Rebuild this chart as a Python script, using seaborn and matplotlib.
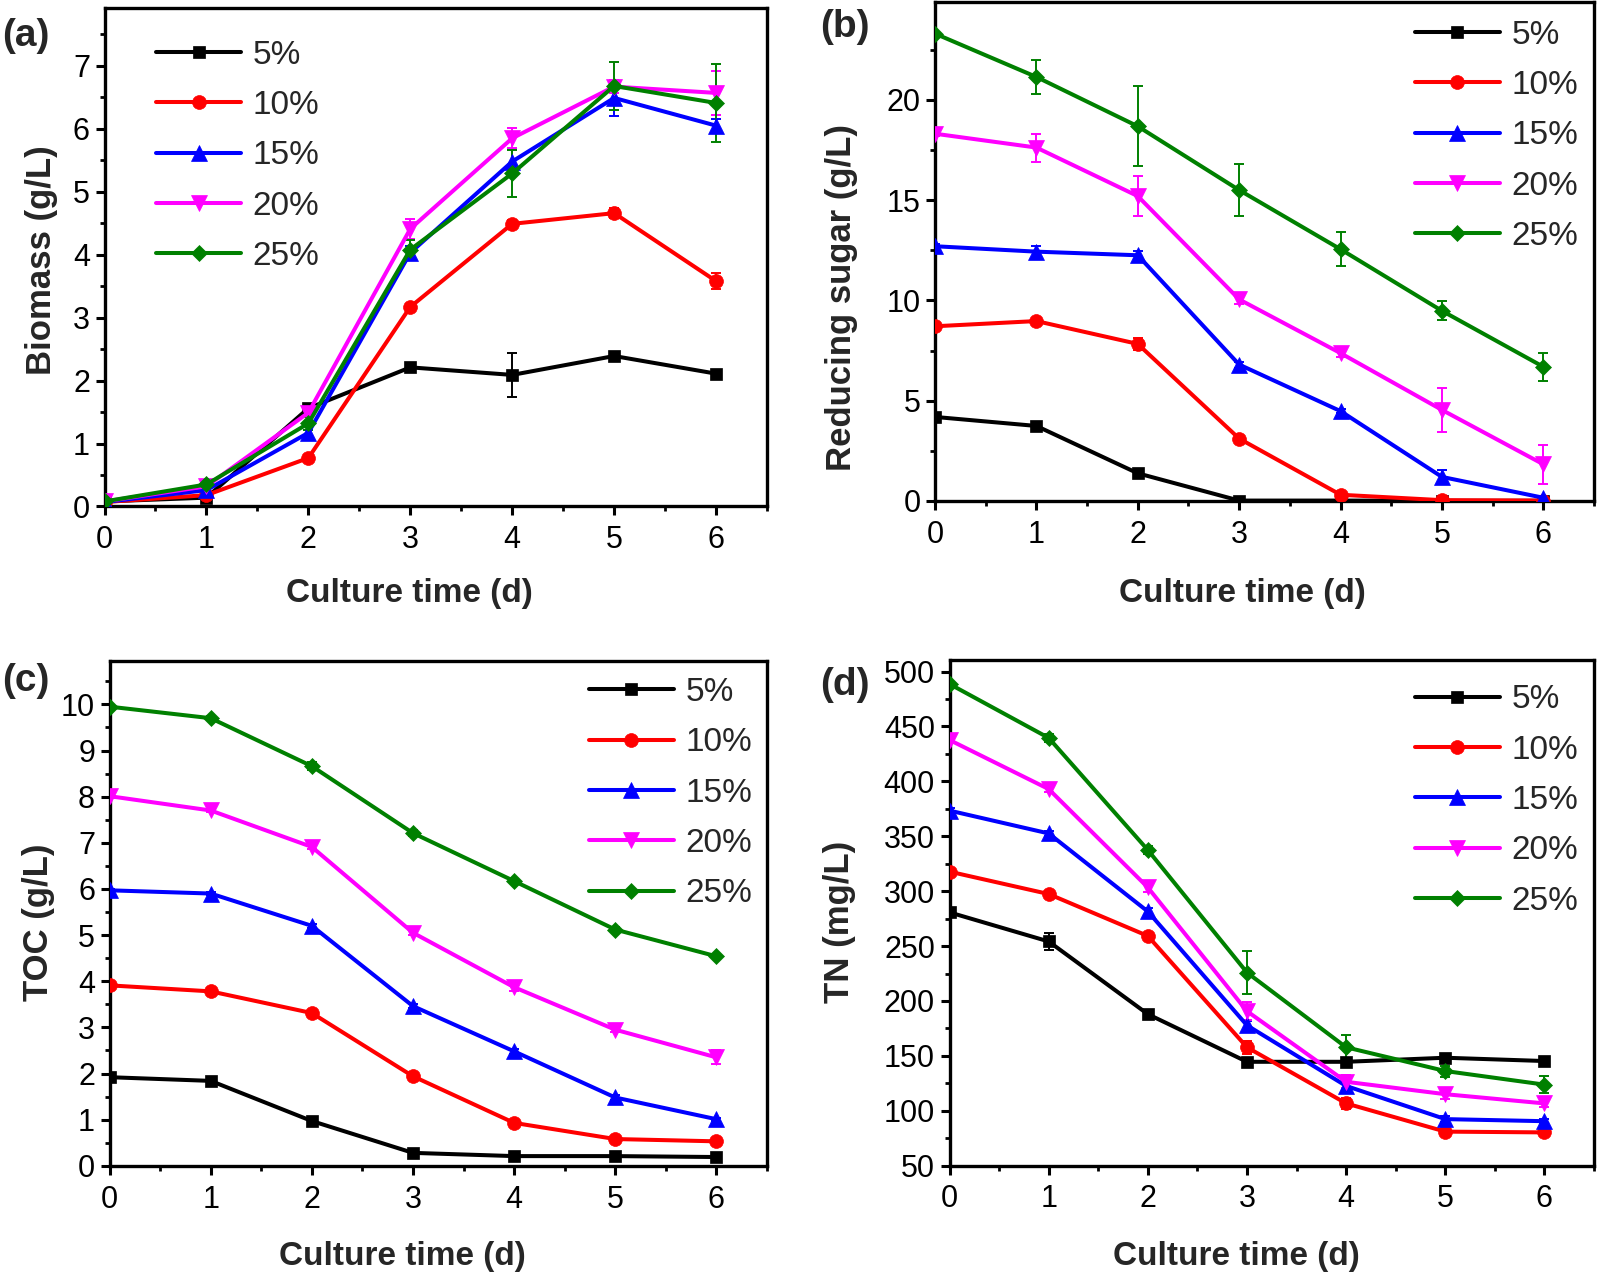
import numpy as np
import pandas as pd
import matplotlib
matplotlib.use("Agg")
import matplotlib.pyplot as plt
import seaborn as sns
from matplotlib.ticker import MultipleLocator

# ---------------- data ----------------
days = [0, 1, 2, 3, 4, 5, 6]
series_names = ["5%", "10%", "15%", "20%", "25%"]
colors = ["#000000", "#FF0000", "#0000FF", "#FF00FF", "#008000"]
marker_list = ["s", "o", "^", "v", "D"]

# (a) Biomass (g/L)
biomass_5 = [0.08, 0.14, 1.56, 2.21, 2.09, 2.39, 2.11]
biomass_10 = [0.07, 0.18, 0.77, 3.17, 4.49, 4.66, 3.58]
biomass_15 = [0.07, 0.26, 1.17, 4.03, 5.48, 6.49, 6.05]
biomass_20 = [0.08, 0.32, 1.49, 4.41, 5.85, 6.67, 6.57]
biomass_25 = [0.08, 0.35, 1.32, 4.08, 5.29, 6.68, 6.41]
biomass_err_5 = [0.02, 0.03, 0.05, 0.05, 0.35, 0.05, 0.05]
biomass_err_10 = [0.02, 0.03, 0.05, 0.05, 0.06, 0.08, 0.13]
biomass_err_15 = [0.02, 0.05, 0.05, 0.10, 0.20, 0.28, 0.10]
biomass_err_20 = [0.02, 0.05, 0.05, 0.16, 0.16, 0.10, 0.35]
biomass_err_25 = [0.02, 0.05, 0.10, 0.15, 0.38, 0.38, 0.62]

# (b) Reducing sugar (g/L)
sugar_5 = [4.19, 3.74, 1.38, 0.02, 0.02, 0.01, 0.01]
sugar_10 = [8.71, 8.97, 7.83, 3.11, 0.31, 0.04, 0.02]
sugar_15 = [12.70, 12.43, 12.25, 6.80, 4.48, 1.20, 0.16]
sugar_20 = [18.31, 17.62, 15.20, 10.05, 7.37, 4.54, 1.83]
sugar_25 = [23.30, 21.14, 18.68, 15.50, 12.55, 9.48, 6.69]
sugar_err_5 = [0.05, 0.10, 0.15, 0.0, 0.0, 0.0, 0.0]
sugar_err_10 = [0.10, 0.10, 0.30, 0.10, 0.10, 0.0, 0.0]
sugar_err_15 = [0.10, 0.30, 0.20, 0.15, 0.10, 0.35, 0.05]
sugar_err_20 = [0.10, 0.70, 1.00, 0.25, 0.20, 1.08, 0.98]
sugar_err_25 = [0.10, 0.85, 2.00, 1.30, 0.85, 0.47, 0.70]

# (c) TOC (g/L)
toc_5 = [1.92, 1.84, 0.97, 0.28, 0.21, 0.21, 0.19]
toc_10 = [3.91, 3.78, 3.31, 1.94, 0.93, 0.58, 0.53]
toc_15 = [5.97, 5.90, 5.20, 3.46, 2.48, 1.48, 1.01]
toc_20 = [8.01, 7.70, 6.91, 5.05, 3.87, 2.95, 2.35]
toc_25 = [9.95, 9.70, 8.66, 7.21, 6.17, 5.12, 4.54]
toc_err_5 = [0.03, 0.03, 0.03, 0.03, 0.03, 0.03, 0.03]
toc_err_10 = [0.03, 0.04, 0.05, 0.05, 0.06, 0.04, 0.03]
toc_err_15 = [0.03, 0.03, 0.05, 0.05, 0.05, 0.05, 0.03]
toc_err_20 = [0.03, 0.04, 0.05, 0.05, 0.08, 0.05, 0.15]
toc_err_25 = [0.03, 0.04, 0.08, 0.06, 0.05, 0.05, 0.03]

# (d) TN (mg/L)
tn_5 = [280.7, 254.2, 188.0, 144.6, 144.6, 148.3, 145.3]
tn_10 = [317.8, 297.4, 259.2, 157.8, 106.7, 81.0, 80.3]
tn_15 = [373.4, 352.6, 281.5, 177.8, 122.6, 92.4, 90.5]
tn_20 = [437.7, 393.0, 303.4, 190.7, 126.4, 115.1, 106.7]
tn_25 = [488.7, 439.6, 337.5, 225.9, 157.8, 136.2, 123.8]
tn_err_5 = [2, 8, 3, 3, 3, 2, 2]
tn_err_10 = [2, 3, 3, 6, 5, 2, 2]
tn_err_15 = [2, 2, 3, 4, 3, 3, 2]
tn_err_20 = [2, 3, 4, 8, 6, 4, 3]
tn_err_25 = [2, 4, 4, 20, 11, 5, 8]

panels = [
    dict(tag="(a)", ylabel="Biomass (g/L)",
         vals=[biomass_5, biomass_10, biomass_15, biomass_20, biomass_25],
         errs=[biomass_err_5, biomass_err_10, biomass_err_15, biomass_err_20, biomass_err_25],
         ylim=(0, 7.92), ymajor=1, yminor=0.5, yticks_range=(0, 7)),
    dict(tag="(b)", ylabel="Reducing sugar (g/L)",
         vals=[sugar_5, sugar_10, sugar_15, sugar_20, sugar_25],
         errs=[sugar_err_5, sugar_err_10, sugar_err_15, sugar_err_20, sugar_err_25],
         ylim=(0, 24.9), ymajor=5, yminor=2.5, yticks_range=(0, 20)),
    dict(tag="(c)", ylabel="TOC (g/L)",
         vals=[toc_5, toc_10, toc_15, toc_20, toc_25],
         errs=[toc_err_5, toc_err_10, toc_err_15, toc_err_20, toc_err_25],
         ylim=(0, 10.94), ymajor=1, yminor=0.5, yticks_range=(0, 10)),
    dict(tag="(d)", ylabel="TN (mg/L)",
         vals=[tn_5, tn_10, tn_15, tn_20, tn_25],
         errs=[tn_err_5, tn_err_10, tn_err_15, tn_err_20, tn_err_25],
         ylim=(50, 510.6), ymajor=50, yminor=25, yticks_range=(50, 500)),
]

# ---------------- layout (figure fractions) ----------------
W, H = 1598, 1278
axes_rects = [
    [0.0654, 0.6037, 0.4146, 0.3901],
    [0.5851, 0.6080, 0.4124, 0.3908],
    [0.0686, 0.0878, 0.4113, 0.3950],
    [0.5942, 0.0879, 0.4033, 0.3957],
]
legend_anchor = [(0.078, 0.936), (0.728, 0.9635), (0.729, 0.968), (0.7215, 0.952)]
ylabel_x = [-0.0958, -0.1426, -0.1076, -0.1714]
ylabel_y = [0.494, 0.407, 0.483, 0.482]
xlabel_x = [0.46, 0.467, 0.445, 0.445]
xlabel_y = [-0.175, -0.186, -0.179, -0.179]
tag_pos = [(2, 36), (820, 27), (2, 681), (820, 685)]

sns.set_theme(style="ticks")
plt.rcParams["font.family"] = ["Liberation Sans", "DejaVu Sans"]
plt.rcParams["axes.linewidth"] = 2.4
plt.rcParams["xtick.major.width"] = 2.2
plt.rcParams["ytick.major.width"] = 2.2
plt.rcParams["xtick.minor.width"] = 2.0
plt.rcParams["ytick.minor.width"] = 2.0
plt.rcParams["xtick.major.size"] = 6.5
plt.rcParams["ytick.major.size"] = 6.5
plt.rcParams["xtick.minor.size"] = 3.5
plt.rcParams["ytick.minor.size"] = 3.5
plt.rcParams["xtick.direction"] = "out"
plt.rcParams["ytick.direction"] = "out"

fig = plt.figure(figsize=(W / 100, H / 100), dpi=100)
palette = dict(zip(series_names, colors))
markers = dict(zip(series_names, marker_list))
marker_sizes = {"s": 9, "o": 10, "^": 11, "v": 11, "D": 8.5}

for i, p in enumerate(panels):
    ax = fig.add_axes(axes_rects[i])
    rows = []
    for name, v in zip(series_names, p["vals"]):
        for d, y in zip(days, v):
            rows.append({"day": d, "value": y, "conc": name})
    df = pd.DataFrame(rows)

    # error bars
    for name, v, e, c in zip(series_names, p["vals"], p["errs"], colors):
        ax.errorbar(days, v, yerr=e, fmt="none", ecolor=c, elinewidth=1.4,
                    capsize=3.5, capthick=1.4, zorder=2)

    n_before = len(ax.get_lines())
    sns.lineplot(data=df, x="day", y="value", hue="conc", style="conc",
                 hue_order=series_names, style_order=series_names,
                 palette=palette, markers=markers, dashes=False,
                 linewidth=2.9, markersize=10, markeredgewidth=0,
                 legend=False, ax=ax, zorder=3)
    handles = ax.get_lines()[n_before:n_before + 5]
    for h, mk, c in zip(handles, marker_list, colors):
        h.set_markersize(marker_sizes[mk])
        h.set_markeredgecolor(c)
        h.set_markeredgewidth(0.5)

    ax.set_xlim(0, 6.5)
    ax.set_ylim(*p["ylim"])
    ax.xaxis.set_major_locator(MultipleLocator(1))
    ax.xaxis.set_minor_locator(MultipleLocator(0.5))
    lo, hi = p["yticks_range"]
    ax.set_yticks(np.arange(lo, hi + p["ymajor"] / 2, p["ymajor"]))
    ax.yaxis.set_minor_locator(MultipleLocator(p["yminor"]))
    ax.tick_params(axis="both", which="both", top=False, right=False,
                   labelsize=22, colors="black")
    ax.tick_params(axis="x", which="major", pad=7)
    ax.tick_params(axis="y", which="major", pad=4)
    for s in ax.spines.values():
        s.set_visible(True)
        s.set_color("black")

    ax.set_xlabel("Culture time (d)", fontsize=24, fontweight="bold", va="center")
    ax.xaxis.set_label_coords(xlabel_x[i], xlabel_y[i])
    ax.set_ylabel(p["ylabel"], fontsize=25, fontweight="bold", va="center")
    ax.yaxis.set_label_coords(ylabel_x[i], ylabel_y[i])

    ax.legend(handles, series_names, loc="upper left",
              bbox_to_anchor=legend_anchor[i], frameon=False, fontsize=24,
              handlelength=2.55, handletextpad=0.35, labelspacing=0.58,
              borderpad=0, borderaxespad=0, numpoints=1)

    tx, ty = tag_pos[i]
    fig.text(tx / W, 1 - ty / H, p["tag"], fontsize=28, fontweight="bold",
             ha="left", va="center")

fig.savefig("out.png", dpi=100)
